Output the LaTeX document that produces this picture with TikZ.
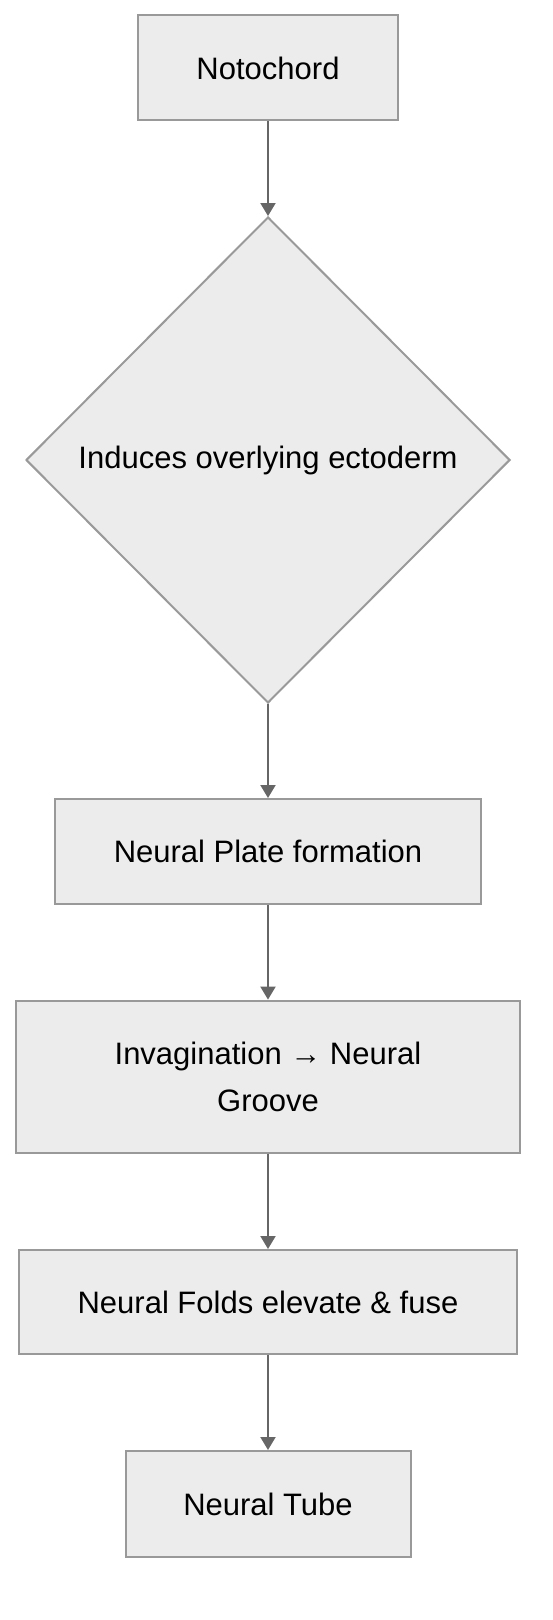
\documentclass[tikz,border=0pt]{standalone}
\usepackage{fontspec}
\setmainfont{Liberation Sans}
\usetikzlibrary{arrows.meta, shapes.geometric}
\definecolor{boxfill}{HTML}{ECECEC}
\definecolor{boxline}{HTML}{999999}
\definecolor{linkgray}{HTML}{666666}

\begin{document}
\begin{tikzpicture}[
    x=0.5pt, y=-0.5pt,
    stepbox/.style={draw=boxline, fill=boxfill, line width=1pt, inner sep=0pt,
        align=center, font=\fontsize{15.5}{23.5}\selectfont},
    decision/.style={stepbox, diamond},
    link/.style={-{Triangle[length=6.5pt, width=7.5pt]}, line width=1pt, linkgray},
]
    \useasboundingbox (0, 0) rectangle (552, 1620);

    % Steps
    \node[stepbox, minimum width=130pt, minimum height=52.5pt] (noto) at (268, 68) {Notochord};
    \node[decision, minimum width=242pt, minimum height=243pt] (induce) at (268, 460) {Induces overlying ectoderm};
    \node[stepbox, minimum width=213pt, minimum height=52.5pt] (plate) at (268, 851.5) {Neural Plate formation};
    \node[stepbox, minimum width=252pt, minimum height=76pt] (groove) at (268, 1076.6) {Invagination → Neural\\Groove};
    \node[stepbox, minimum width=249pt, minimum height=52pt] (folds) at (268, 1302) {Neural Folds elevate \& fuse};
    \node[stepbox, minimum width=142.5pt, minimum height=53pt] (tube) at (268, 1504) {Neural Tube};

    % Links
    \draw[link] (noto) -- (induce);
    \draw[link] (induce) -- (plate);
    \draw[link] (plate) -- (groove);
    \draw[link] (groove) -- (folds);
    \draw[link] (folds) -- (tube);
\end{tikzpicture}
\end{document}
